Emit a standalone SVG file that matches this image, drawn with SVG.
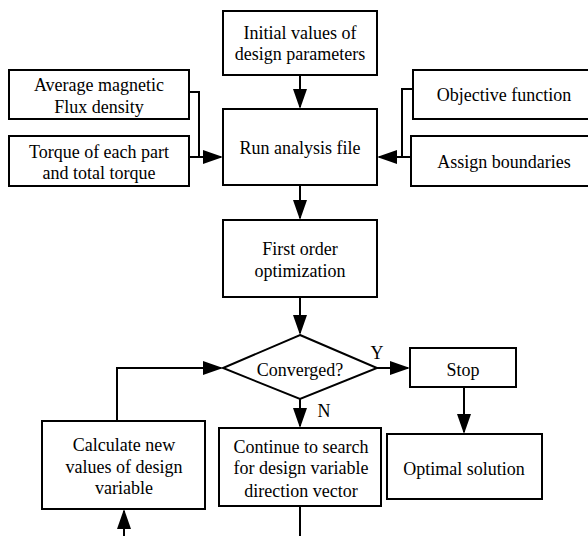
<svg xmlns="http://www.w3.org/2000/svg" width="588" height="536" viewBox="0 0 588 536">
<style>
.box{fill:#fff;stroke:#000;stroke-width:2}
.t{font-family:"Liberation Serif","Times New Roman",serif;font-size:18px;fill:#000;text-anchor:middle}
.c{fill:none;stroke:#000;stroke-width:2}
</style>
<defs>
<marker id="ah" markerUnits="userSpaceOnUse" markerWidth="20" markerHeight="14" refX="18" refY="7" orient="auto">
<path d="M0,0 L20,7 L0,14 z" fill="#000"/>
</marker>
</defs>
<rect width="588" height="536" fill="#fff"/>
<g id="connectors">
<path class="c" d="M300,75 V107" marker-end="url(#ah)"/>
<path class="c" d="M300,185 V218" marker-end="url(#ah)"/>
<path class="c" d="M300,297 V333" marker-end="url(#ah)"/>
<path class="c" d="M189,92 H199 V157"/>
<path class="c" d="M189,157 H221" marker-end="url(#ah)"/>
<path class="c" d="M413,89 H402 V157"/>
<path class="c" d="M411,157 H379" marker-end="url(#ah)"/>
<path class="c" d="M377,368 H408" marker-end="url(#ah)"/>
<path class="c" d="M300,399 V426" marker-end="url(#ah)"/>
<path class="c" d="M117,421 V368 H221" marker-end="url(#ah)"/>
<path class="c" d="M464,387 V432" marker-end="url(#ah)"/>
<path class="c" d="M124,536 V511" marker-end="url(#ah)"/>
<path class="c" d="M300,506 V536"/>
<text class="t" x="377" y="359">Y</text>
<text class="t" x="324" y="417">N</text>
</g>
<g id="initial">
<rect class="box" x="223" y="11" width="154" height="64"/>
<text class="t" x="300" y="39">Initial values of</text>
<text class="t" x="300" y="60">design parameters</text>
</g>
<g id="run">
<rect class="box" x="223" y="109" width="154" height="76"/>
<text class="t" x="300" y="154">Run analysis file</text>
</g>
<g id="average">
<rect class="box" x="9" y="70" width="180" height="49"/>
<text class="t" x="99" y="91">Average magnetic</text>
<text class="t" x="99" y="113">Flux density</text>
</g>
<g id="torque">
<rect class="box" x="9" y="136" width="180" height="50"/>
<text class="t" x="99" y="158">Torque of each part</text>
<text class="t" x="99" y="179">and total torque</text>
</g>
<g id="objective">
<rect class="box" x="413" y="70" width="180" height="49"/>
<text class="t" x="504" y="101">Objective function</text>
</g>
<g id="assign">
<rect class="box" x="411" y="136" width="182" height="50"/>
<text class="t" x="504" y="168">Assign boundaries</text>
</g>
<g id="first">
<rect class="box" x="223" y="220" width="154" height="77"/>
<text class="t" x="300" y="255">First order</text>
<text class="t" x="300" y="277">optimization</text>
</g>
<g id="converged">
<path class="box" d="M300,335 L377,368 L300,399 L223,368 Z"/>
<text class="t" x="300" y="376">Converged?</text>
</g>
<g id="stop">
<rect class="box" x="410" y="348" width="106" height="39"/>
<text class="t" x="463" y="376">Stop</text>
</g>
<g id="calculate">
<rect class="box" x="42" y="421" width="163" height="88"/>
<text class="t" x="124" y="451">Calculate new</text>
<text class="t" x="124" y="473">values of design</text>
<text class="t" x="124" y="494">variable</text>
</g>
<g id="continue">
<rect class="box" x="219" y="428" width="162" height="78"/>
<text class="t" x="301" y="453">Continue to search</text>
<text class="t" x="301" y="474">for design variable</text>
<text class="t" x="301" y="497">direction vector</text>
</g>
<g id="optimal">
<rect class="box" x="387" y="434" width="155" height="65"/>
<text class="t" x="464" y="475">Optimal solution</text>
</g>
</svg>
